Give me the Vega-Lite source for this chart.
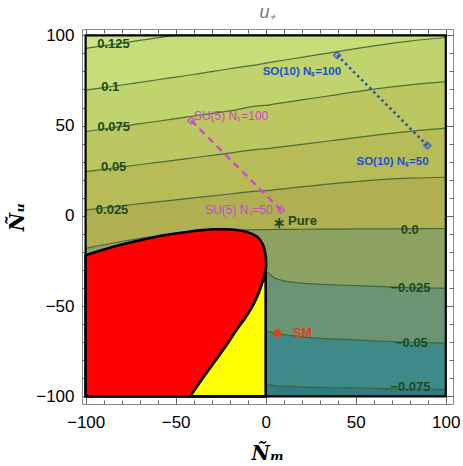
{
  "$schema": "https://vega.github.io/schema/vega-lite/v6.json",
  "width": 371,
  "height": 375,
  "autosize": "none",
  "padding": {"left": 82, "top": 29, "right": 10, "bottom": 62},
  "title": {"text": "u₊", "font": "Liberation Sans", "fontStyle": "italic", "fontWeight": "normal", "fontSize": 18, "color": "#777777", "offset": 4},
  "config": {"view": {"stroke": "#8c8c8c", "strokeWidth": 1}, "font": "Liberation Sans"},
  "datasets": {
    "grid": [
      {"x": -100, "top": 100, "c125": 92.8, "c100": 69.6, "c075": 46.7, "c050": 24.5, "c025": 3.3, "c000": -18, "m025": -100, "m050": -100, "m075": -100, "floor": -100},
      {"x": -80, "top": 100, "c125": 95.7, "c100": 72.5, "c075": 49.6, "c050": 27.1, "c025": 5.6, "c000": -14.2, "m025": -100, "m050": -100, "m075": -100, "floor": -100},
      {"x": -60, "top": 100, "c125": 98.6, "c100": 75.4, "c075": 52.4, "c050": 29.6, "c025": 7.8, "c000": -11.2, "m025": -100, "m050": -100, "m075": -100, "floor": -100},
      {"x": -49, "top": 100, "c125": 100, "c100": 77, "c075": 54, "c050": 31, "c025": 9.0, "c000": -10, "m025": -100, "m050": -100, "m075": -100, "floor": -100},
      {"x": -40, "top": 100, "c125": 100, "c100": 78.3, "c075": 55.3, "c050": 32.2, "c025": 10.0, "c000": -9.2, "m025": -100, "m050": -100, "m075": -100, "floor": -100},
      {"x": -20, "top": 100, "c125": 100, "c100": 81.5, "c075": 58.2, "c050": 34.7, "c025": 12.1, "c000": -8, "m025": -100, "m050": -100, "m075": -100, "floor": -100},
      {"x": -0.5, "top": 100, "c125": 100, "c100": 84.5, "c075": 61.2, "c050": 37.1, "c025": 14.0, "c000": -7.6, "m025": -100, "m050": -100, "m075": -100, "floor": -100},
      {"x": 0, "top": 100, "c125": 100, "c100": 84.6, "c075": 61.2, "c050": 37.1, "c025": 14.0, "c000": -7.6, "m025": -31, "m050": -64, "m075": -93.5, "floor": -100},
      {"x": 5, "top": 100, "c125": 100, "c100": 85.4, "c075": 62, "c050": 37.8, "c025": 14.5, "c000": -7.5, "m025": -34.5, "m050": -65, "m075": -94, "floor": -100},
      {"x": 10, "top": 100, "c125": 100, "c100": 86.2, "c075": 62.7, "c050": 38.4, "c025": 15, "c000": -7.5, "m025": -36, "m050": -65.8, "m075": -94.3, "floor": -100},
      {"x": 20, "top": 100, "c125": 100, "c100": 87.8, "c075": 64.2, "c050": 39.6, "c025": 16.1, "c000": -7.4, "m025": -37.3, "m050": -67, "m075": -94.7, "floor": -100},
      {"x": 40, "top": 100, "c125": 100, "c100": 91, "c075": 67.2, "c050": 42.1, "c025": 18.1, "c000": -7.3, "m025": -38.3, "m050": -68.3, "m075": -95.2, "floor": -100},
      {"x": 60, "top": 100, "c125": 100, "c100": 94.2, "c075": 70.2, "c050": 44.6, "c025": 19.8, "c000": -7.2, "m025": -39, "m050": -69.2, "m075": -95.6, "floor": -100},
      {"x": 80, "top": 100, "c125": 100, "c100": 96.8, "c075": 72.6, "c050": 46.8, "c025": 20.9, "c000": -7.1, "m025": -39.7, "m050": -70, "m075": -95.9, "floor": -100},
      {"x": 100, "top": 100, "c125": 100, "c100": 98.8, "c075": 74.4, "c050": 48.6, "c025": 21.4, "c000": -7, "m025": -40.2, "m050": -70.5, "m075": -96.2, "floor": -100}
    ],
    "red": [
      {"x": -100, "top": -21.8, "bottom": -100},
      {"x": -85, "top": -17.2, "bottom": -100},
      {"x": -70, "top": -13.6, "bottom": -100},
      {"x": -60, "top": -11.4, "bottom": -100},
      {"x": -50, "top": -9.8, "bottom": -100},
      {"x": -42, "top": -8.7, "bottom": -100},
      {"x": -35, "top": -7.9, "bottom": -90},
      {"x": -29, "top": -7.4, "bottom": -81.6},
      {"x": -22, "top": -7.4, "bottom": -72},
      {"x": -16, "top": -7.8, "bottom": -63},
      {"x": -11, "top": -8.8, "bottom": -56},
      {"x": -7, "top": -10.3, "bottom": -49.5},
      {"x": -4, "top": -12.2, "bottom": -43},
      {"x": -2.2, "top": -14.8, "bottom": -38},
      {"x": -1, "top": -17.5, "bottom": -34.5},
      {"x": -0.3, "top": -20.5, "bottom": -31.5},
      {"x": 0.1, "top": -23.5, "bottom": -29.5},
      {"x": 0.25, "top": -26, "bottom": -27.5}
    ],
    "yellow": [
      {"x": -42, "top": -100, "bottom": -100},
      {"x": -35, "top": -90, "bottom": -100},
      {"x": -29, "top": -81.6, "bottom": -100},
      {"x": -22, "top": -72, "bottom": -100},
      {"x": -16, "top": -63, "bottom": -100},
      {"x": -11, "top": -56, "bottom": -100},
      {"x": -7, "top": -49.5, "bottom": -100},
      {"x": -4, "top": -43, "bottom": -100},
      {"x": -2.2, "top": -38, "bottom": -100},
      {"x": -1, "top": -34.5, "bottom": -100},
      {"x": -0.3, "top": -31.5, "bottom": -100},
      {"x": 0, "top": -29.5, "bottom": -100}
    ],
    "frame": [{"x": -100, "x2": 100, "y": -100, "y2": 100}],
    "clabels": [
      {"t": "0.125", "x": -84.5, "y": 95.3},
      {"t": "0.1", "x": -86.3, "y": 71.5},
      {"t": "0.075", "x": -84.4, "y": 49.1},
      {"t": "0.05", "x": -84.4, "y": 27.3},
      {"t": "0.025", "x": -85.3, "y": 3.3},
      {"t": "0.0", "x": 80, "y": -7.8},
      {"t": "−0.025", "x": 80.4, "y": -40},
      {"t": "−0.05", "x": 80.9, "y": -70.2},
      {"t": "−0.075", "x": 80.4, "y": -94.6}
    ],
    "su5": [{"x": -41.4, "y": 52.8}, {"x": 8.5, "y": 3.3}],
    "so10": [{"x": 39.7, "y": 89.0}, {"x": 89.7, "y": 39.0}],
    "su5text": [{"t": "SU(5) Nₛ=100", "x": -19.2, "y": 55.4}, {"t": "SU(5) Nₛ=50", "x": -14.8, "y": 3.3}],
    "so10text": [{"t": "SO(10) Nₛ=100", "x": 20.1, "y": 79.8}, {"t": "SO(10) Nₛ=50", "x": 70.4, "y": 30.1}],
    "sm": [{"t": "SM", "x": 6.4, "y": -65, "tx": 20.4}],
    "pure": [{"t": "Pure", "x": 7.4, "y": -4.1, "tx": 20.4, "ty": -2.6}]
  },
  "resolve": {"axis": {"x": "independent", "y": "independent"}},
  "layer": [
    {
      "data": {"name": "grid"},
      "mark": {"type": "area", "color": "#cde586", "interpolate": "monotone"},
      "encoding": {
        "x": {"field": "x", "type": "quantitative", "scale": {"domain": [-102, 104], "nice": false, "zero": false},
          "axis": {"orient": "bottom", "values": [-100, -50, 0, 50, 100],
            "tickSize": -7,
            "tickColor": "#666666", "tickWidth": 1, "domain": false, "grid": false,
            "labelFont": "Liberation Sans", "labelFontSize": 17, "labelColor": "black",
            "labelPadding": 17, "labelFlush": false, "labelOverlap": false,
            "title": "Ñₘ", "titleFont": "DejaVu Serif", "titleFontStyle": "italic", "titleFontWeight": "bold", "titleFontSize": 20, "titlePadding": 13, "titleColor": "black"}},
        "y": {"field": "c125", "type": "quantitative", "scale": {"domain": [-104.2, 103.5], "nice": false, "zero": false},
          "axis": {"orient": "left", "values": [-100, -50, 0, 50, 100],
            "tickSize": -7,
            "tickColor": "#666666", "tickWidth": 1, "domain": false, "grid": false,
            "labelFont": "Liberation Sans", "labelFontSize": 17, "labelColor": "black",
            "labelPadding": 15, "labelFlush": false, "labelOverlap": false,
            "title": "Ñᵤ", "titleFont": "DejaVu Serif", "titleFontStyle": "italic", "titleFontWeight": "bold", "titleFontSize": 20, "titlePadding": 8, "titleColor": "black"}},
        "y2": {"field": "top"}
      }
    },
    {
      "data": {"name": "grid"},
      "mark": {"type": "area", "color": "#c6dd7a", "interpolate": "monotone"},
      "encoding": {
        "x": {"field": "x", "type": "quantitative", "scale": {"domain": [-102, 104], "nice": false, "zero": false},
          "axis": {"orient": "top", "values": [-100, -50, 0, 50, 100],
            "tickSize": -7,
            "tickColor": "#666666", "tickWidth": 1, "domain": false, "grid": false, "labels": false, "title": null}},
        "y": {"field": "c100", "type": "quantitative", "scale": {"domain": [-104.2, 103.5], "nice": false, "zero": false},
          "axis": {"orient": "right", "values": [-100, -50, 0, 50, 100],
            "tickSize": -7,
            "tickColor": "#666666", "tickWidth": 1, "domain": false, "grid": false, "labels": false, "title": null}},
        "y2": {"field": "c125"}
      }
    },
    {
      "data": {"name": "grid"},
      "mark": {"type": "area", "color": "#c0d36c", "interpolate": "monotone"},
      "encoding": {
        "x": {"field": "x", "type": "quantitative", "scale": {"domain": [-102, 104], "nice": false, "zero": false},
          "axis": {"orient": "bottom", "values": [-90,-80,-70,-60,-40,-30,-20,-10,10,20,30,40,60,70,80,90],
            "tickSize": -4,
            "tickColor": "#666666", "tickWidth": 1, "domain": false, "grid": false, "labels": false, "title": null}},
        "y": {"field": "c075", "type": "quantitative", "scale": {"domain": [-104.2, 103.5], "nice": false, "zero": false},
          "axis": {"orient": "left", "values": [-90,-80,-70,-60,-40,-30,-20,-10,10,20,30,40,60,70,80,90],
            "tickSize": -4,
            "tickColor": "#666666", "tickWidth": 1, "domain": false, "grid": false, "labels": false, "title": null}},
        "y2": {"field": "c100"}
      }
    },
    {
      "data": {"name": "grid"},
      "mark": {"type": "area", "color": "#bcc761", "interpolate": "monotone"},
      "encoding": {
        "x": {"field": "x", "type": "quantitative", "scale": {"domain": [-102, 104], "nice": false, "zero": false},
          "axis": {"orient": "top", "values": [-90,-80,-70,-60,-40,-30,-20,-10,10,20,30,40,60,70,80,90],
            "tickSize": -4,
            "tickColor": "#666666", "tickWidth": 1, "domain": false, "grid": false, "labels": false, "title": null}},
        "y": {"field": "c050", "type": "quantitative", "scale": {"domain": [-104.2, 103.5], "nice": false, "zero": false},
          "axis": {"orient": "right", "values": [-90,-80,-70,-60,-40,-30,-20,-10,10,20,30,40,60,70,80,90],
            "tickSize": -4,
            "tickColor": "#666666", "tickWidth": 1, "domain": false, "grid": false, "labels": false, "title": null}},
        "y2": {"field": "c075"}
      }
    },
    {
      "data": {"name": "grid"},
      "mark": {"type": "area", "color": "#b8bc58", "interpolate": "monotone"},
      "encoding": {
        "x": {"field": "x", "type": "quantitative", "scale": {"domain": [-102, 104], "nice": false, "zero": false}, "axis": null},
        "y": {"field": "c025", "type": "quantitative", "scale": {"domain": [-104.2, 103.5], "nice": false, "zero": false}, "axis": null},
        "y2": {"field": "c050"}
      }
    },
    {
      "data": {"name": "grid"},
      "mark": {"type": "area", "color": "#b0b052", "interpolate": "monotone"},
      "encoding": {
        "x": {"field": "x", "type": "quantitative", "scale": {"domain": [-102, 104], "nice": false, "zero": false}, "axis": null},
        "y": {"field": "c000", "type": "quantitative", "scale": {"domain": [-104.2, 103.5], "nice": false, "zero": false}, "axis": null},
        "y2": {"field": "c025"}
      }
    },
    {
      "data": {"name": "grid"},
      "mark": {"type": "area", "color": "#8ca263", "interpolate": "monotone"},
      "encoding": {
        "x": {"field": "x", "type": "quantitative", "scale": {"domain": [-102, 104], "nice": false, "zero": false}, "axis": null},
        "y": {"field": "m025", "type": "quantitative", "scale": {"domain": [-104.2, 103.5], "nice": false, "zero": false}, "axis": null},
        "y2": {"field": "c000"}
      }
    },
    {
      "data": {"name": "grid"},
      "mark": {"type": "area", "color": "#6a9575", "interpolate": "monotone"},
      "encoding": {
        "x": {"field": "x", "type": "quantitative", "scale": {"domain": [-102, 104], "nice": false, "zero": false}, "axis": null},
        "y": {"field": "m050", "type": "quantitative", "scale": {"domain": [-104.2, 103.5], "nice": false, "zero": false}, "axis": null},
        "y2": {"field": "m025"}
      }
    },
    {
      "data": {"name": "grid"},
      "mark": {"type": "area", "color": "#3f8a89", "interpolate": "monotone"},
      "encoding": {
        "x": {"field": "x", "type": "quantitative", "scale": {"domain": [-102, 104], "nice": false, "zero": false}, "axis": null},
        "y": {"field": "m075", "type": "quantitative", "scale": {"domain": [-104.2, 103.5], "nice": false, "zero": false}, "axis": null},
        "y2": {"field": "m050"}
      }
    },
    {
      "data": {"name": "grid"},
      "mark": {"type": "area", "color": "#2e7c7f", "interpolate": "monotone"},
      "encoding": {
        "x": {"field": "x", "type": "quantitative", "scale": {"domain": [-102, 104], "nice": false, "zero": false}, "axis": null},
        "y": {"field": "floor", "type": "quantitative", "scale": {"domain": [-104.2, 103.5], "nice": false, "zero": false}, "axis": null},
        "y2": {"field": "m075"}
      }
    },
    {
      "data": {"name": "grid"},
      "transform": [{"fold": ["c125", "c100", "c075", "c050", "c025", "c000", "m025", "m050", "m075"], "as": ["level", "yv"]}],
      "mark": {"type": "line", "color": "#345c2a", "strokeWidth": 1.2, "opacity": 0.85, "interpolate": "monotone"},
      "encoding": {
        "x": {"field": "x", "type": "quantitative", "scale": {"domain": [-102, 104], "nice": false, "zero": false}, "axis": null},
        "y": {"field": "yv", "type": "quantitative", "scale": {"domain": [-104.2, 103.5], "nice": false, "zero": false}, "axis": null},
        "detail": {"field": "level", "type": "nominal"}
      }
    },
    {
      "data": {"name": "red"},
      "mark": {"type": "area", "color": "#ff0000", "stroke": "black", "strokeWidth": 2.6, "interpolate": "monotone"},
      "encoding": {
        "x": {"field": "x", "type": "quantitative", "scale": {"domain": [-102, 104], "nice": false, "zero": false}, "axis": null},
        "y": {"field": "top", "type": "quantitative", "scale": {"domain": [-104.2, 103.5], "nice": false, "zero": false}, "axis": null},
        "y2": {"field": "bottom"}
      }
    },
    {
      "data": {"name": "yellow"},
      "mark": {"type": "area", "color": "#ffff00", "stroke": "black", "strokeWidth": 2.6, "interpolate": "monotone"},
      "encoding": {
        "x": {"field": "x", "type": "quantitative", "scale": {"domain": [-102, 104], "nice": false, "zero": false}, "axis": null},
        "y": {"field": "top", "type": "quantitative", "scale": {"domain": [-104.2, 103.5], "nice": false, "zero": false}, "axis": null},
        "y2": {"field": "bottom"}
      }
    },
    {
      "data": {"name": "frame"},
      "mark": {"type": "rect", "filled": false, "stroke": "black", "strokeWidth": 2.2},
      "encoding": {
        "x": {"field": "x", "type": "quantitative", "scale": {"domain": [-102, 104], "nice": false, "zero": false}, "axis": null},
        "x2": {"field": "x2"},
        "y": {"field": "y", "type": "quantitative", "scale": {"domain": [-104.2, 103.5], "nice": false, "zero": false}, "axis": null},
        "y2": {"field": "y2"}
      }
    },
    {
      "data": {"name": "clabels"},
      "mark": {"type": "text", "color": "#1d4a1d", "font": "Liberation Sans", "fontWeight": "bold", "fontSize": 13, "align": "center", "baseline": "middle"},
      "encoding": {
        "x": {"field": "x", "type": "quantitative", "scale": {"domain": [-102, 104], "nice": false, "zero": false}, "axis": null},
        "y": {"field": "y", "type": "quantitative", "scale": {"domain": [-104.2, 103.5], "nice": false, "zero": false}, "axis": null},
        "text": {"field": "t", "type": "nominal"}
      }
    },
    {
      "data": {"name": "su5"},
      "mark": {"type": "line", "color": "#cc44cc", "strokeWidth": 2.2, "strokeDash": [7, 5]},
      "encoding": {
        "x": {"field": "x", "type": "quantitative", "scale": {"domain": [-102, 104], "nice": false, "zero": false}, "axis": null},
        "y": {"field": "y", "type": "quantitative", "scale": {"domain": [-104.2, 103.5], "nice": false, "zero": false}, "axis": null}
      }
    },
    {
      "data": {"name": "so10"},
      "mark": {"type": "line", "color": "#1f4fcf", "strokeWidth": 2.5, "strokeDash": [2.5, 3.2]},
      "encoding": {
        "x": {"field": "x", "type": "quantitative", "scale": {"domain": [-102, 104], "nice": false, "zero": false}, "axis": null},
        "y": {"field": "y", "type": "quantitative", "scale": {"domain": [-104.2, 103.5], "nice": false, "zero": false}, "axis": null}
      }
    },
    {
      "data": {"name": "su5"},
      "mark": {"type": "point", "shape": "diamond", "filled": false, "color": "#cc44cc", "strokeWidth": 1.8, "size": 45},
      "encoding": {
        "x": {"field": "x", "type": "quantitative", "scale": {"domain": [-102, 104], "nice": false, "zero": false}, "axis": null},
        "y": {"field": "y", "type": "quantitative", "scale": {"domain": [-104.2, 103.5], "nice": false, "zero": false}, "axis": null}
      }
    },
    {
      "data": {"name": "so10"},
      "mark": {"type": "point", "shape": "diamond", "filled": false, "color": "#1f4fcf", "strokeWidth": 1.8, "size": 45},
      "encoding": {
        "x": {"field": "x", "type": "quantitative", "scale": {"domain": [-102, 104], "nice": false, "zero": false}, "axis": null},
        "y": {"field": "y", "type": "quantitative", "scale": {"domain": [-104.2, 103.5], "nice": false, "zero": false}, "axis": null}
      }
    },
    {
      "data": {"name": "su5text"},
      "mark": {"type": "text", "color": "#cc44cc", "font": "Liberation Sans", "fontSize": 12, "align": "center", "baseline": "middle"},
      "encoding": {
        "x": {"field": "x", "type": "quantitative", "scale": {"domain": [-102, 104], "nice": false, "zero": false}, "axis": null},
        "y": {"field": "y", "type": "quantitative", "scale": {"domain": [-104.2, 103.5], "nice": false, "zero": false}, "axis": null},
        "text": {"field": "t", "type": "nominal"}
      }
    },
    {
      "data": {"name": "so10text"},
      "mark": {"type": "text", "color": "#1f4fcf", "font": "Liberation Sans", "fontWeight": "bold", "fontSize": 11.5, "align": "center", "baseline": "middle"},
      "encoding": {
        "x": {"field": "x", "type": "quantitative", "scale": {"domain": [-102, 104], "nice": false, "zero": false}, "axis": null},
        "y": {"field": "y", "type": "quantitative", "scale": {"domain": [-104.2, 103.5], "nice": false, "zero": false}, "axis": null},
        "text": {"field": "t", "type": "nominal"}
      }
    },
    {
      "data": {"name": "sm"},
      "mark": {"type": "point", "shape": "circle", "filled": true, "color": "#e0401a", "opacity": 1, "size": 60},
      "encoding": {
        "x": {"field": "x", "type": "quantitative", "scale": {"domain": [-102, 104], "nice": false, "zero": false}, "axis": null},
        "y": {"field": "y", "type": "quantitative", "scale": {"domain": [-104.2, 103.5], "nice": false, "zero": false}, "axis": null}
      }
    },
    {
      "data": {"name": "sm"},
      "mark": {"type": "text", "color": "#e0401a", "font": "Liberation Sans", "fontWeight": "bold", "fontSize": 12.5, "align": "center", "baseline": "middle"},
      "encoding": {
        "x": {"field": "tx", "type": "quantitative", "scale": {"domain": [-102, 104], "nice": false, "zero": false}, "axis": null},
        "y": {"field": "y", "type": "quantitative", "scale": {"domain": [-104.2, 103.5], "nice": false, "zero": false}, "axis": null},
        "text": {"field": "t", "type": "nominal"}
      }
    },
    {
      "data": {"name": "pure"},
      "mark": {"type": "text", "color": "#1d4a1d", "font": "DejaVu Sans", "fontWeight": "bold", "fontSize": 16, "align": "center", "baseline": "middle", "text": "∗"},
      "encoding": {
        "x": {"field": "x", "type": "quantitative", "scale": {"domain": [-102, 104], "nice": false, "zero": false}, "axis": null},
        "y": {"field": "y", "type": "quantitative", "scale": {"domain": [-104.2, 103.5], "nice": false, "zero": false}, "axis": null}
      }
    },
    {
      "data": {"name": "pure"},
      "mark": {"type": "text", "color": "#1d4a1d", "font": "Liberation Sans", "fontWeight": "bold", "fontSize": 13, "align": "center", "baseline": "middle"},
      "encoding": {
        "x": {"field": "tx", "type": "quantitative", "scale": {"domain": [-102, 104], "nice": false, "zero": false}, "axis": null},
        "y": {"field": "ty", "type": "quantitative", "scale": {"domain": [-104.2, 103.5], "nice": false, "zero": false}, "axis": null},
        "text": {"field": "t", "type": "nominal"}
      }
    }
  ]
}
